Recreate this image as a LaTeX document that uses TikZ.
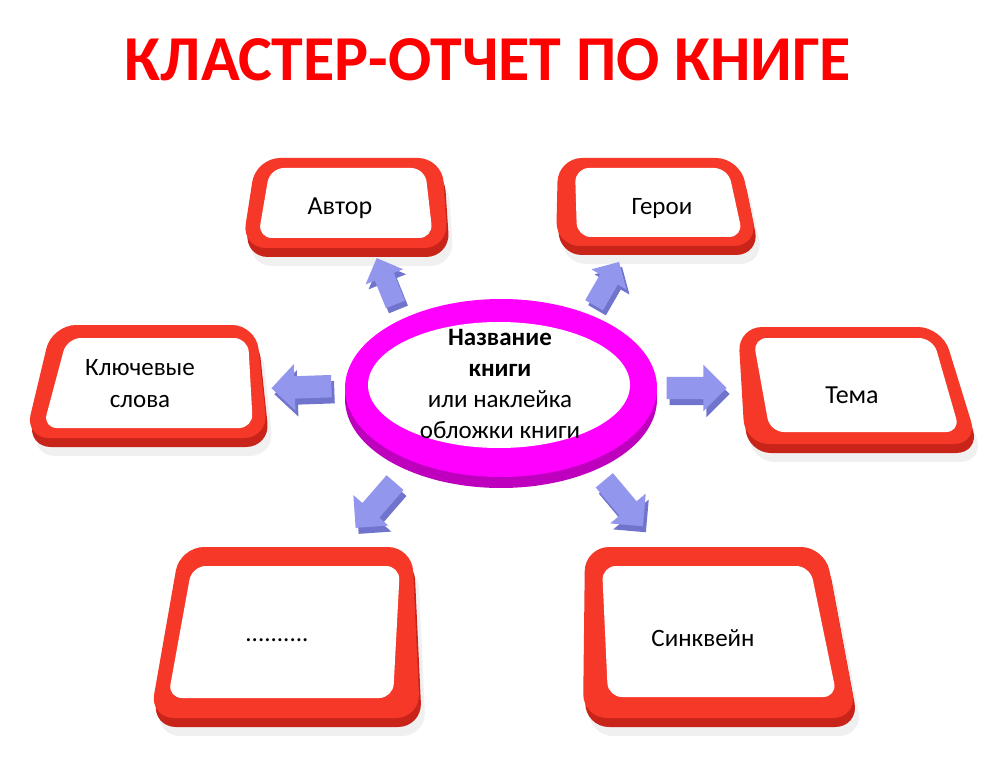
\documentclass[tikz,border=0pt]{standalone}
\usepackage{fontspec}
\setmainfont{Carlito}
\usetikzlibrary{shapes.arrows}
\definecolor{redface}{RGB}{246,56,40}
\definecolor{redside}{RGB}{200,36,26}
\definecolor{magface}{RGB}{255,0,255}
\definecolor{magside}{RGB}{190,0,190}
\definecolor{arrface}{RGB}{146,150,236}
\definecolor{arrside}{RGB}{112,116,204}
\definecolor{titlered}{RGB}{255,0,0}
\tikzset{
  boxside/.style={fill=redside, rounded corners=24pt},
  boxface/.style={fill=redface, rounded corners=24pt},
  boxinner/.style={fill=white, rounded corners=14pt},
  boxshadow/.style={fill=black, opacity=0.06, rounded corners=24pt},
  lbl/.style={font=\fontsize{25}{32}\selectfont, align=center, text=black, inner sep=0pt},
  blockarrow/.style={single arrow, fill=arrface, draw=none, minimum height=60pt,
    inner xsep=0pt, inner ysep=11pt, single arrow head extend=12pt},
  smallarrow/.style={minimum height=50pt, inner ysep=10pt, single arrow head extend=10pt},
  blockarrowside/.style={blockarrow, fill=arrside},
}
\newcommand\drawpanel[8]{%
  \fill[boxshadow, xshift=6pt, yshift=-18pt] (#1) -- (#2) -- (#3) -- (#4) -- cycle;
  \fill[boxside, xshift=2pt, yshift=-9pt] (#1) -- (#2) -- (#3) -- (#4) -- cycle;
  \fill[boxface] (#1) -- (#2) -- (#3) -- (#4) -- cycle;
  \fill[boxinner] (#5) -- (#6) -- (#7) -- (#8) -- cycle;
}
\begin{document}
\begin{tikzpicture}[x=1pt,y=-1pt]
\useasboundingbox (0,0) rectangle (1000,775);
\fill[white] (0,0) rectangle (1000,775);

% title
\node[font=\fontsize{64}{70}\selectfont\bfseries, text=titlered, inner sep=0pt] (title) at (488,60) {КЛАСТЕР-ОТЧЕТ ПО КНИГЕ};

% panels
\drawpanel{256,158}{442,158}{448,248}{242,248}{270,168}{425,168}{433,238}{258,238}
\drawpanel{558,158}{740,158}{758,246}{556,246}{575,168}{728,168}{743,237}{577,237}
\drawpanel{52,325}{256,325}{268,438}{25,438}{67,338}{248,338}{253,428}{43,428}
\drawpanel{738,327}{942,327}{978,444}{745,444}{753,338}{933,338}{960,432}{770,432}
\drawpanel{180,547}{412,547}{420,718}{150,718}{192,566}{400,566}{393,698}{168,698}
\drawpanel{585,547}{825,547}{857,718}{583,718}{602,566}{810,566}{837,697}{608,697}

\node[lbl, font=\fontsize{26}{32}\selectfont] (author) at (340,208) {Автор};
\node[lbl] (heroes) at (662,208) {Герои};
\node[lbl] (keywords) at (140,384) {Ключевые\\слова};
\node[lbl, font=\fontsize{26}{32}\selectfont] (theme) at (852,395) {Тема};
\node[lbl] (dots) at (277,640) {..........};
\node[lbl] (cinquain) at (703,638) {Синквейн};

% block arrows (side first, then face)
\node[blockarrowside, smallarrow, rotate=112] (aAs) at (391,291) {};
\node[blockarrow, smallarrow, rotate=112] (aA) at (388,286) {};
\node[blockarrowside, smallarrow, rotate=60] (aHs) at (607,293) {};
\node[blockarrow, smallarrow, rotate=60] (aH) at (604,288) {};
\node[blockarrowside, rotate=182] (aKs) at (310,393) {};
\node[blockarrow, rotate=182] (aK) at (307,387) {};
\node[blockarrowside] (aTs) at (694,394) {};
\node[blockarrow] (aT) at (691,388) {};
\node[blockarrowside, rotate=229] (aDs) at (382,507) {};
\node[blockarrow, rotate=229] (aD) at (379,501) {};
\node[blockarrowside, rotate=-50] (aSs) at (623,505) {};
\node[blockarrow, rotate=-50] (aS) at (620,499) {};

% central ring
\fill[magside] (501,399) ellipse [x radius=156pt, y radius=89pt];
\fill[magface] (501,388) ellipse [x radius=156pt, y radius=89pt];
\fill[white] (499,385) ellipse [x radius=131pt, y radius=63pt];
\node[lbl, font=\fontsize{25}{31}\selectfont] (center) at (500,384)
  {\textbf{Название}\\\textbf{книги}\\или наклейка\\обложки книги};
\end{tikzpicture}
\end{document}
